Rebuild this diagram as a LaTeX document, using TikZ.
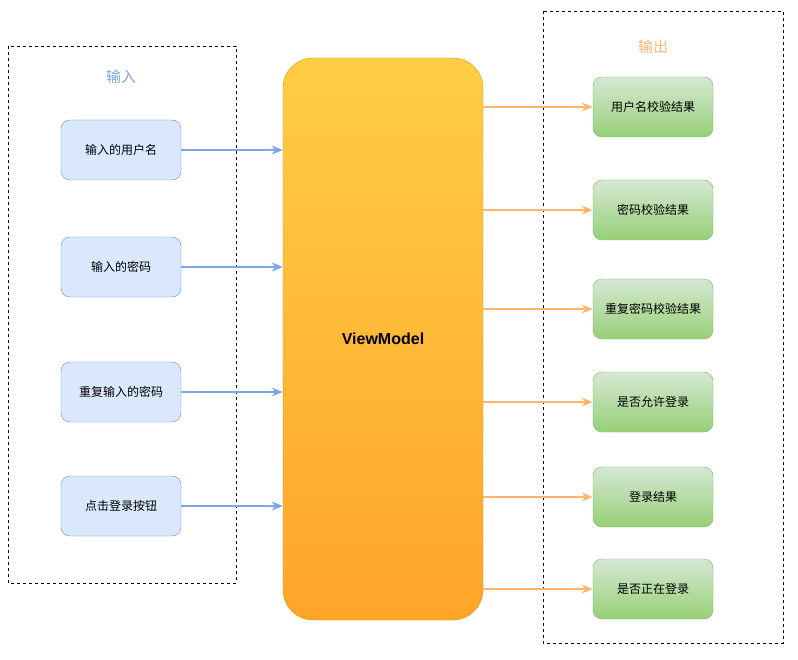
\documentclass[tikz,border=0pt]{standalone}
\usepackage{fontspec}
\setmainfont{Liberation Sans}
\newfontfamily\cjk{Noto Sans CJK SC}
\usetikzlibrary{arrows.meta}
\definecolor{inblue}{HTML}{7EA6E0}
\definecolor{infill}{HTML}{DAE8FC}
\definecolor{inline}{HTML}{6C8EBF}
\definecolor{outorange}{HTML}{FFB570}
\definecolor{gtop}{HTML}{D5E8D4}
\definecolor{gbot}{HTML}{97D077}
\definecolor{gline}{HTML}{82B366}
\definecolor{vtop}{HTML}{FFCD45}
\definecolor{vbot}{HTML}{FFA52A}
\definecolor{vline}{HTML}{D79B00}
\tikzset{
    inbox/.style={draw=inline, fill=infill, rounded corners=9pt, minimum width=120pt,
        minimum height=60pt, font=\cjk\fontsize{12}{14}\selectfont},
    outbox/.style={draw=gline, top color=gtop, bottom color=gbot, rounded corners=9pt,
        minimum width=120pt, minimum height=60pt, font=\cjk\fontsize{12}{14}\selectfont},
    inarrow/.style={draw=inblue, line width=2pt, -{Stealth[length=11pt,width=9pt]}},
    outarrow/.style={draw=outorange, line width=2pt, -{Stealth[length=11pt,width=9pt]}},
    groupbox/.style={draw=black, dash pattern=on 3pt off 3pt, thin},
}
\begin{document}
\begin{tikzpicture}[x=1pt,y=-1pt]
\useasboundingbox (0,0) rectangle (798,660);
% groups
\draw[groupbox] (8,46) rectangle (236,583);
\draw[groupbox] (543,11) rectangle (783,643);
\node[text=inblue, font=\cjk\fontsize{15}{18}\selectfont] (inlabel) at (121,77) {输入};
\node[text=outorange, font=\cjk\fontsize{15}{18}\selectfont] (outlabel) at (653,47) {输出};
% view model
\node[draw=vline, top color=vtop, bottom color=vbot, rounded corners=30pt,
    minimum width=200pt, minimum height=562pt,
    font=\bfseries\fontsize{16}{19}\selectfont] (vm) at (383,339) {ViewModel};
% inputs
\node[inbox] (in1) at (121,150) {输入的用户名};
\node[inbox] (in2) at (121,267) {输入的密码};
\node[inbox] (in3) at (121,392) {重复输入的密码};
\node[inbox] (in4) at (121,506) {点击登录按钮};
% outputs
\node[outbox] (out1) at (653,107) {用户名校验结果};
\node[outbox] (out2) at (653,210) {密码校验结果};
\node[outbox] (out3) at (653,309) {重复密码校验结果};
\node[outbox] (out4) at (653,402) {是否允许登录};
\node[outbox] (out5) at (653,497) {登录结果};
\node[outbox] (out6) at (653,589) {是否正在登录};
% connectors
\foreach \i in {1,...,4}
    \draw[inarrow] (in\i.east) -- (in\i.east -| vm.west);
\foreach \i in {1,...,6}
    \draw[outarrow] (out\i.west -| vm.east) -- (out\i.west);
\end{tikzpicture}
\end{document}
